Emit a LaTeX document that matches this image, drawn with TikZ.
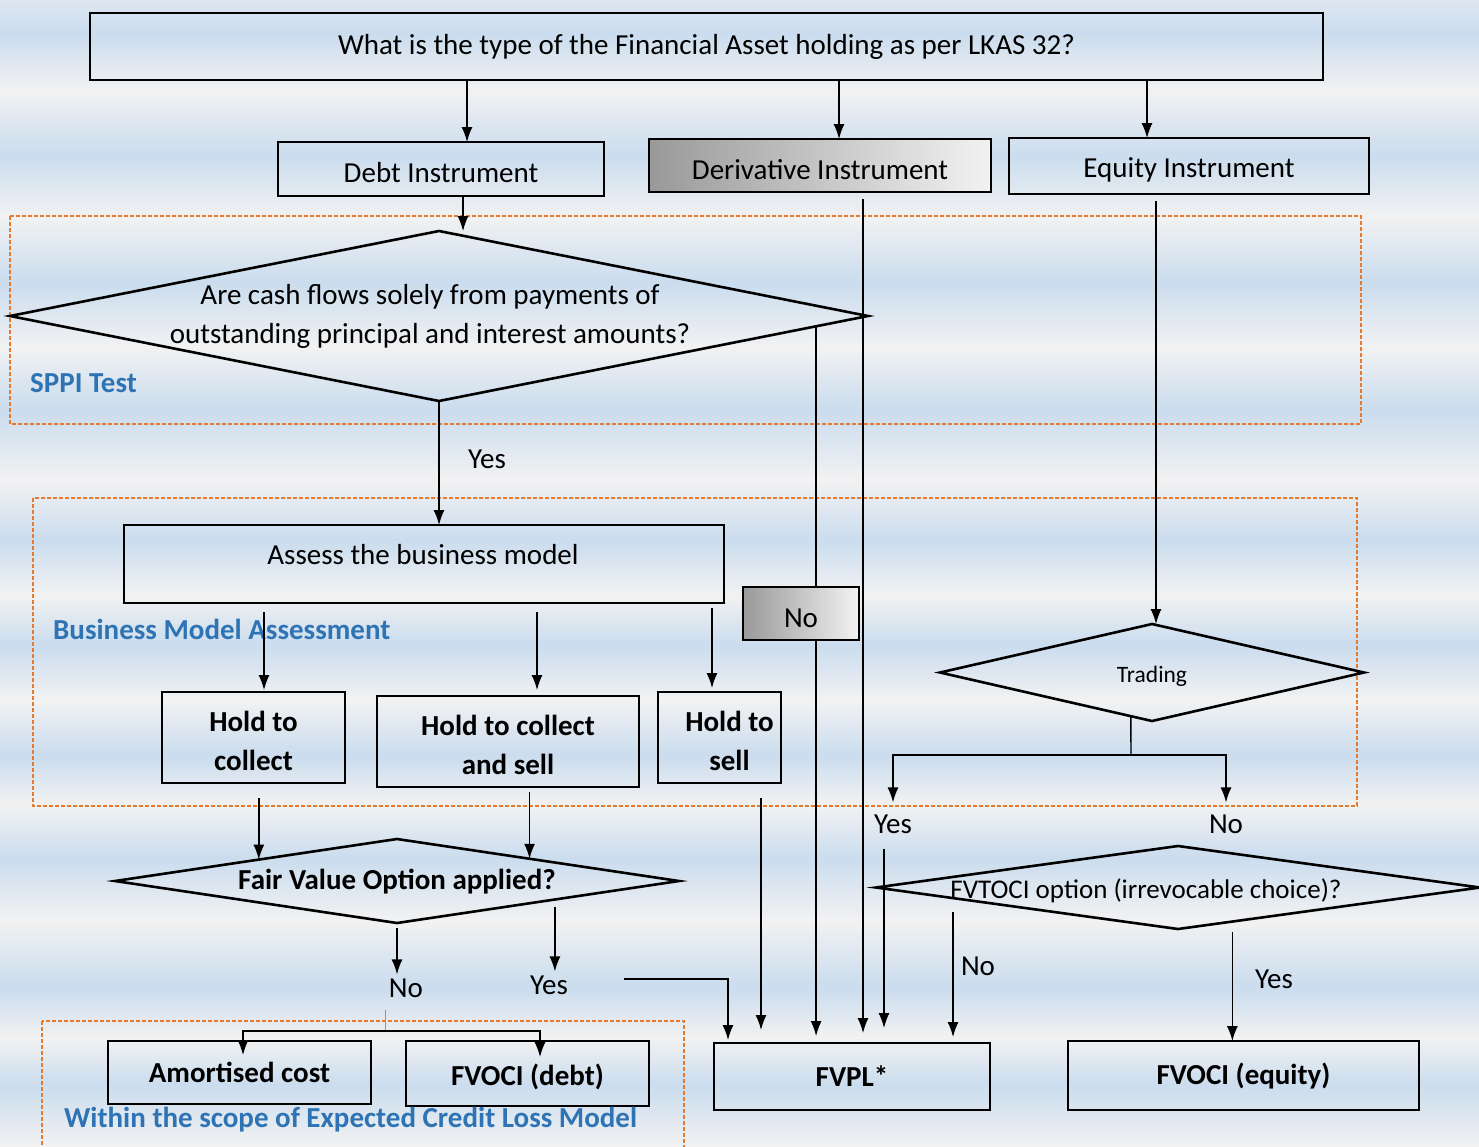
\documentclass[tikz,border=0pt]{standalone}
\usepackage{fontspec}
\setmainfont{Carlito}
\usetikzlibrary{arrows.meta, shapes.geometric, calc}
\definecolor{bandBlue}{HTML}{CADCEE}
\definecolor{bandGrey}{HTML}{F2F2F2}
\definecolor{zoneOrange}{HTML}{E67A2E}
\definecolor{zoneBlue}{HTML}{2E74B5}
\newcommand{\flowFont}{\fontsize{29}{39}\selectfont}
\newcommand{\flowBoldFont}{\fontsize{29}{39}\selectfont\bfseries}
\newcommand{\flowSmallFont}{\fontsize{23.5}{28}\selectfont}
\newcommand{\boxStrut}{\rule{0pt}{28pt}}
\tikzset{
    flowBox/.style={rectangle, draw, line width=2.6pt, inner sep=0pt, outer sep=0pt},
    lowText/.style={text height=28pt},
    greyBox/.style={flowBox, left color=black!40, right color=black!5},
    flowDiamond/.style={diamond, draw, line width=2.6pt, inner sep=0pt, outer sep=0pt},
    zoneBox/.style={draw=zoneOrange, line width=1.2pt, dash pattern=on 4pt off 2pt},
    zoneLabel/.style={anchor=west, inner sep=0pt, text=zoneBlue, font=\flowBoldFont},
    edgeLabel/.style={inner sep=0pt, font=\flowFont},
    flowLine/.style={line width=1.4pt},
    flowEdge/.style={flowLine, -{Latex[length=15pt, width=11pt]}},
    splitLine/.style={line width=1pt, draw=zoneBlue!70},
}

\begin{document}
\begin{tikzpicture}[x=1pt, y=-1pt]
    \useasboundingbox (0,0) rectangle (1479,1146);

    % striped background
    \foreach \ya/\yb/\ca/\cb in {0/33/bandGrey!50!bandBlue/bandBlue, 33/90/bandBlue/bandGrey,
        90/155/bandGrey/bandBlue, 155/217/bandBlue/bandGrey, 217/282/bandGrey/bandBlue,
        282/347/bandBlue/bandGrey, 347/410/bandGrey/bandBlue, 410/480/bandBlue/bandGrey,
        480/540/bandGrey/bandBlue, 540/595/bandBlue/bandGrey, 595/645/bandGrey/bandBlue,
        645/700/bandBlue/bandGrey, 700/755/bandGrey/bandBlue, 755/805/bandBlue/bandGrey,
        805/858/bandGrey/bandBlue, 858/920/bandBlue/bandGrey, 920/987/bandGrey/bandBlue,
        987/1038/bandBlue/bandGrey, 1038/1085/bandGrey/bandBlue, 1085/1146/bandBlue/bandGrey}
        \shade[top color=\ca, bottom color=\cb] (-1,\ya-0.5) rectangle (1480,\yb+0.5);

    % dashed zones
    \draw[zoneBox] (10,216) rectangle (1361,424);
    \draw[zoneBox] (33,498) rectangle (1357,806);
    \draw[zoneBox] (42,1021) rectangle (684,1160);

    \node[flowBox, minimum width=1233pt, minimum height=67pt, font=\flowFont] (assetType) at (706.5,46.5) {What is the type of the Financial Asset holding as per LKAS 32?};
    \node[flowBox, lowText, minimum width=326pt, minimum height=54pt, font=\flowFont] (debt) at (441,169) {Debt Instrument};
    \node[greyBox, lowText, minimum width=342pt, minimum height=53pt, font=\flowFont] (deriv) at (820,165.5) {Derivative Instrument};
    \node[flowBox, lowText, minimum width=360pt, minimum height=56pt, font=\flowFont] (equity) at (1189,166) {Equity Instrument};

    \node[flowDiamond, minimum width=858pt, minimum height=170pt] (sppi) at (439,316) {};
    \node[font=\flowFont, align=center, inner sep=0pt] (sppiText) at (430,316.5) {Are cash flows solely from payments of\\outstanding principal and interest amounts?};
    \node[zoneLabel] (sppiLabel) at (30,383) {SPPI Test};
    \node[edgeLabel] (sppiYes) at (487,459) {Yes};

    \node[flowBox, minimum width=600pt, minimum height=78pt] (assess) at (424,564) {};
    \node[font=\flowFont, inner sep=0pt] (assessText) at (423,555) {Assess the business model};
    \node[zoneLabel] (bmaLabel) at (53,629) {Business Model Assessment};
    \node[greyBox, lowText, minimum width=116pt, minimum height=53pt, font=\flowFont] (noDeriv) at (801,613.5) {No};

    \node[flowBox, minimum width=183pt, minimum height=91pt, font=\flowBoldFont, align=center] (htc) at (253.5,737.5) {\boxStrut Hold to\\collect};
    \node[flowBox, minimum width=262pt, minimum height=91pt, font=\flowBoldFont, align=center] (htcs) at (508,741.5) {\boxStrut Hold to collect\\and sell};
    \node[flowBox, minimum width=123pt, minimum height=91pt, font=\flowBoldFont, align=center] (hts) at (719.5,737.5) {\boxStrut\hspace*{20pt}Hold to\\\hspace*{20pt}sell};

    \node[flowDiamond, minimum width=424pt, minimum height=97pt] (trading) at (1152,672.5) {};
    \node[font=\flowSmallFont, inner sep=0pt] (tradingText) at (1152,676) {Trading};
    \node[edgeLabel] (tradYes) at (893,824) {Yes};
    \node[edgeLabel] (tradNo) at (1226,824) {No};

    \node[flowDiamond, minimum width=564pt, minimum height=84pt] (fvo) at (397,881) {};
    \node[font=\flowBoldFont, inner sep=0pt] (fvoText) at (397,882) {Fair Value Option applied?};
    \node[edgeLabel] (fvoNo) at (406,988) {No};
    \node[edgeLabel] (fvoYes) at (549,985) {Yes};

    \node[flowDiamond, minimum width=604pt, minimum height=83pt] (fvtoci) at (1178,887.5) {};
    \node[font=\fontsize{27}{32}\selectfont, inner sep=0pt] (fvtociText) at (1146,891) {FVTOCI option (irrevocable choice)?};
    \node[edgeLabel] (ociNo) at (978,966) {No};
    \node[edgeLabel] (ociYes) at (1274,979) {Yes};

    \node[flowBox, minimum width=263pt, minimum height=63pt, font=\flowBoldFont] (amort) at (239.5,1072.5) {Amortised cost};
    \node[flowBox, lowText, minimum width=243pt, minimum height=65pt, font=\flowBoldFont] (fvocid) at (527.5,1073.5) {FVOCI (debt)};
    \node[flowBox, minimum width=276pt, minimum height=67pt, font=\flowBoldFont] (fvpl) at (852,1076.5) {FVPL*};
    \node[flowBox, minimum width=351pt, minimum height=69pt, font=\flowBoldFont] (fvoce) at (1243.5,1075.5) {FVOCI (equity)};
    \node[zoneLabel] (eclLabel) at (64,1120) {Within the scope of Expected Credit Loss Model};

    % columns and branch points
    \foreach \cname/\cx in {colDebt/467, colDeriv/839, colEquity/1147, colSppi/463, colDerivDown/863,
        colEquityDown/1156, colHtc/264, colHtcs/537, colHts/712, colHtsDown/761, colTradYes/884,
        colFvpl/728, colAmort/243, colFvocid/540}
        \coordinate (\cname) at (\cx,0);
    \coordinate (fvoSplit) at (385,1031);
    \coordinate (tradSplit) at (1131,755);
    \coordinate (sppiNo) at ($(sppi.east)!0.121!(sppi.south)$);
    \coordinate (fvoInL) at ($(fvo.north)!0.49!(fvo.west)$);
    \coordinate (fvoInR) at ($(fvo.north)!0.47!(fvo.east)$);
    \coordinate (fvoOutR) at ($(fvo.south)!0.56!(fvo.east)$);
    \coordinate (tradOut) at ($(trading.south)!0.1!(trading.west)$);
    \coordinate (ociOutL) at ($(fvtoci.west)!0.255!(fvtoci.south)$);
    \coordinate (ociOutR) at ($(fvtoci.south)!0.18!(fvtoci.east)$);

    \draw[flowEdge] (assetType.south -| colDebt) -- (debt.north -| colDebt);
    \draw[flowEdge] (assetType.south -| colDeriv) -- (deriv.north -| colDeriv);
    \draw[flowEdge] (assetType.south -| colEquity) -- (equity.north -| colEquity);

    \draw[flowEdge] (debt.south -| colSppi) -- (sppi.north -| colSppi);
    \draw[flowEdge] (sppi.south) -- (sppi.south |- assess.north);
    \draw[flowLine] (sppiNo) -- (sppiNo |- noDeriv.north);
    \draw[flowEdge, shorten >=7pt] (noDeriv.south -| sppiNo) -- (sppiNo |- fvpl.north);
    \draw[flowEdge, shorten <=7pt, shorten >=10pt] (deriv.south -| colDerivDown) -- (fvpl.north -| colDerivDown);
    \draw[flowEdge, shorten <=7pt] (equity.south -| colEquityDown) -- (trading.north -| colEquityDown);

    \draw[flowEdge, shorten <=9pt, shorten >=2pt] (assess.south -| colHtc) -- (htc.north -| colHtc);
    \draw[flowEdge, shorten <=9pt, shorten >=6pt] (assess.south -| colHtcs) -- (htcs.north -| colHtcs);
    \draw[flowEdge, shorten <=5pt, shorten >=4pt] (assess.south -| colHts) -- (hts.north -| colHts);

    \draw[flowEdge, shorten <=15pt] (htc.south -| fvoInL) -- (fvoInL);
    \draw[flowEdge, shorten <=5pt] (htcs.south -| fvoInR) -- (fvoInR);
    \draw[flowEdge, shorten <=5pt, shorten >=4pt] (fvo.south) -- (fvo.south |- fvoNo.north);
    \draw[flowEdge, shorten <=8pt, shorten >=4pt] (fvoOutR) -- (fvoOutR |- fvoYes.north);
    \draw[flowEdge, shorten >=3pt] ([xshift=56pt, yshift=6pt]fvoYes.east) -| (fvpl.north -| colFvpl);
    \draw[flowEdge, shorten <=15pt, shorten >=13pt] (hts.south -| colHtsDown) -- (fvpl.north -| colHtsDown);

    \draw[flowLine] (tradOut) -- (tradSplit);
    \draw[flowEdge, shorten >=12pt] (tradSplit) -| (tradYes.north);
    \draw[flowEdge, shorten >=12pt] (tradSplit) -| (tradNo.north);
    \draw[flowEdge, shorten <=15pt, shorten >=15pt] (tradYes.south -| colTradYes) -- (fvpl.north -| colTradYes);
    \draw[flowEdge, shorten <=14pt, shorten >=6pt] (ociOutL) -- (ociOutL |- fvpl.north);
    \draw[flowEdge, shorten <=10pt] (ociOutR) -- (ociOutR |- fvoce.north);

    \draw[splitLine, shorten <=12pt] (fvoNo.south -| fvoSplit) -- (fvoSplit);
    \draw[flowEdge, shorten >=-14pt] (fvoSplit) -| (amort.north -| colAmort);
    \draw[flowEdge, shorten >=-16pt] (fvoSplit) -| (fvocid.north -| colFvocid);
\end{tikzpicture}
\end{document}
